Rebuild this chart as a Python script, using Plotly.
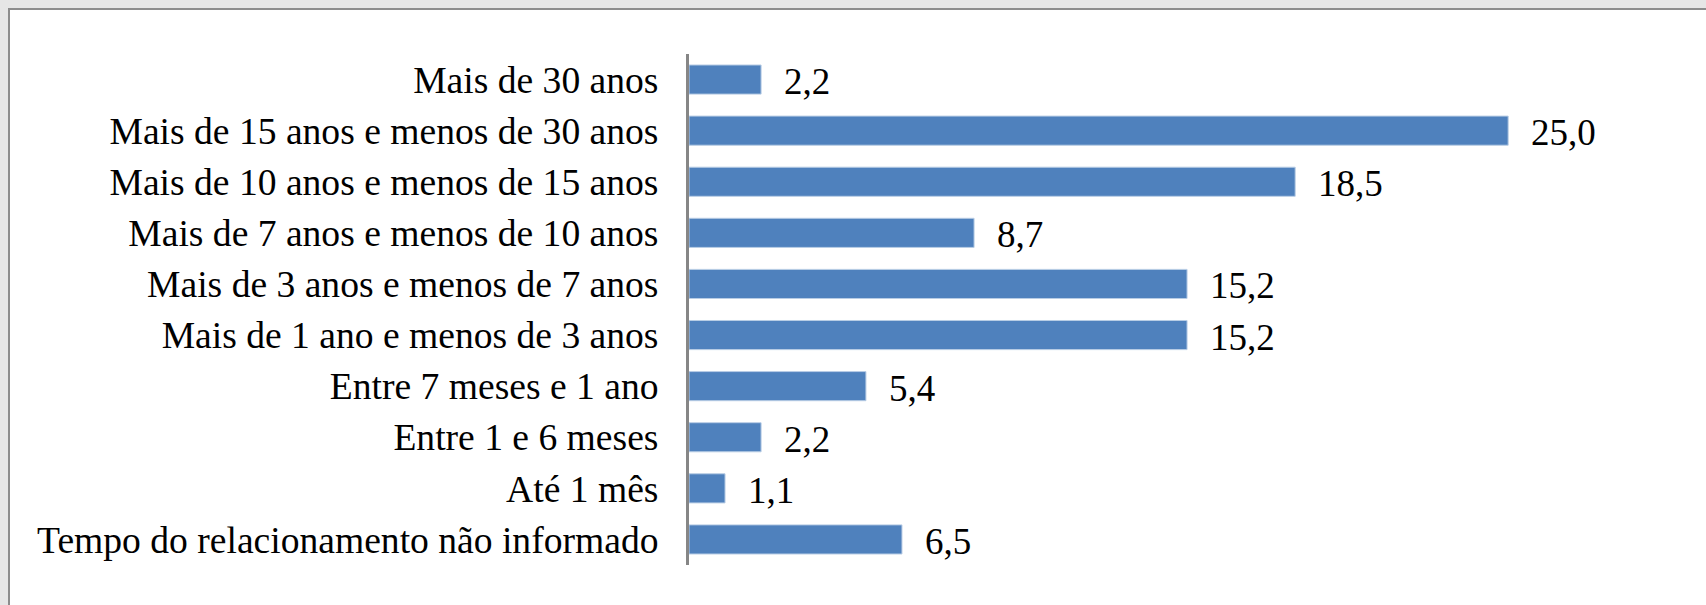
import plotly.graph_objects as go

# Tempo de relacionamento (%), listed top to bottom
categorias = [
    "Mais de 30 anos",
    "Mais de 15 anos e menos de 30 anos",
    "Mais de 10 anos e menos de 15 anos",
    "Mais de 7 anos e menos de 10 anos",
    "Mais de 3 anos e menos de 7 anos",
    "Mais de 1 ano e menos de 3 anos",
    "Entre 7 meses e 1 ano",
    "Entre 1 e 6 meses",
    "Até 1 mês",
    "Tempo do relacionamento não informado",
]
percentuais = [2.2, 25.0, 18.5, 8.7, 15.2, 15.2, 5.4, 2.2, 1.1, 6.5]

FONT = "Liberation Serif, Times New Roman, serif"
W, H = 1706, 605
L, R, T, B = 689, 34, 54, 40
X_MAX = 30

fig = go.Figure(
    go.Bar(
        x=percentuais,
        y=categorias,
        orientation="h",
        marker=dict(color="#4f81bd", line=dict(color="#b9cde5", width=1)),
        width=0.57,
        hoverinfo="skip",
    )
)

# value labels to the right of each bar, decimal comma
for cat, val in zip(categorias, percentuais):
    fig.add_annotation(
        x=val, y=cat, xref="x", yref="y",
        text=f"{val:.1f}".replace(".", ","),
        showarrow=False, xanchor="left", yanchor="middle",
        xshift=21, yshift=-2,
        font=dict(family=FONT, size=37, color="#000000"),
    )

# white chart panel with a grey frame over the grey page
pw = W - L - R
ph = H - T - B
fig.add_shape(
    type="rect", xref="paper", yref="paper", layer="below",
    x0=(9 - L) / pw, x1=(W + 10 - L) / pw,
    y0=(H - B - (H + 10)) / ph, y1=(H - B - 9) / ph,
    fillcolor="#ffffff", line=dict(color="#8c8c8c", width=2),
)

fig.update_layout(
    width=W, height=H,
    margin=dict(l=L, r=R, t=T, b=B),
    paper_bgcolor="#e6e6e6",
    plot_bgcolor="rgba(0,0,0,0)",
    showlegend=False,
    bargap=0.43,
    xaxis=dict(range=[0, X_MAX], visible=False, fixedrange=True),
    yaxis=dict(
        autorange="reversed",
        showline=True, linecolor="#868686", linewidth=3,
        ticks="", showgrid=False, zeroline=False,
        ticklabelstandoff=20,
        tickfont=dict(family=FONT, size=37.6, color="#000000"),
    ),
)

fig.write_html("out.html")
